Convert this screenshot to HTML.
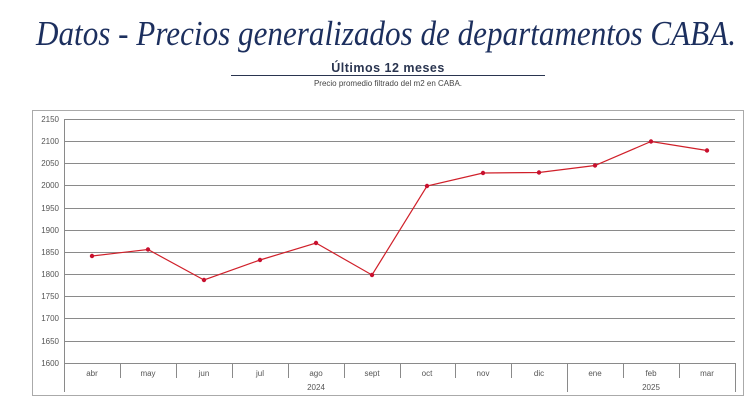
<!DOCTYPE html>
<html><head><meta charset="utf-8"><style>
html,body{margin:0;padding:0;background:#fff;width:750px;height:403px;overflow:hidden}
</style></head><body>
<svg width="750" height="403" xmlns="http://www.w3.org/2000/svg" font-family="Liberation Sans, sans-serif">
<rect width="750" height="403" fill="#fff"/>
<text x="386" y="45" text-anchor="middle" font-family="Liberation Serif, serif" font-style="italic" font-size="35" fill="#1c2f5e" textLength="700" lengthAdjust="spacingAndGlyphs">Datos - Precios generalizados de departamentos CABA.</text>
<text x="388" y="72" text-anchor="middle" font-size="12.5" font-weight="bold" fill="#2a3550" letter-spacing="0.5">Últimos 12 meses</text>
<line x1="231" y1="75.5" x2="545" y2="75.5" stroke="#2a3550" stroke-width="1"/>
<text x="388" y="86" text-anchor="middle" font-size="8" fill="#444">Precio promedio filtrado del m2 en CABA.</text>
<rect x="32.5" y="110.5" width="711" height="285" fill="none" stroke="#aaa" stroke-width="1"/>
<g stroke="#8a8a8a" stroke-width="1">
<line x1="64" y1="119.5" x2="735" y2="119.5"/><line x1="64" y1="141.5" x2="735" y2="141.5"/>
<line x1="64" y1="163.5" x2="735" y2="163.5"/><line x1="64" y1="185.5" x2="735" y2="185.5"/>
<line x1="64" y1="208.5" x2="735" y2="208.5"/><line x1="64" y1="230.5" x2="735" y2="230.5"/>
<line x1="64" y1="252.5" x2="735" y2="252.5"/><line x1="64" y1="274.5" x2="735" y2="274.5"/>
<line x1="64" y1="296.5" x2="735" y2="296.5"/><line x1="64" y1="318.5" x2="735" y2="318.5"/>
<line x1="64" y1="341.5" x2="735" y2="341.5"/><line x1="64" y1="363.5" x2="735" y2="363.5"/>
<line x1="64.5" y1="119" x2="64.5" y2="392"/>
<line x1="120.5" y1="363" x2="120.5" y2="378"/><line x1="176.5" y1="363" x2="176.5" y2="378"/>
<line x1="232.5" y1="363" x2="232.5" y2="378"/><line x1="288.5" y1="363" x2="288.5" y2="378"/>
<line x1="344.5" y1="363" x2="344.5" y2="378"/><line x1="400.5" y1="363" x2="400.5" y2="378"/>
<line x1="455.5" y1="363" x2="455.5" y2="378"/><line x1="511.5" y1="363" x2="511.5" y2="378"/>
<line x1="567.5" y1="363" x2="567.5" y2="392"/><line x1="623.5" y1="363" x2="623.5" y2="378"/>
<line x1="679.5" y1="363" x2="679.5" y2="378"/><line x1="735.5" y1="363" x2="735.5" y2="392"/>
</g>
<g font-size="8" fill="#555" text-anchor="end">
<text x="59" y="122">2150</text><text x="59" y="144">2100</text><text x="59" y="166">2050</text>
<text x="59" y="188">2000</text><text x="59" y="211">1950</text><text x="59" y="233">1900</text>
<text x="59" y="255">1850</text><text x="59" y="277">1800</text><text x="59" y="299">1750</text>
<text x="59" y="321">1700</text><text x="59" y="344">1650</text><text x="59" y="366">1600</text>
</g>
<g font-size="8" fill="#555" text-anchor="middle">
<text x="92" y="376">abr</text><text x="148" y="376">may</text><text x="204" y="376">jun</text>
<text x="260" y="376">jul</text><text x="316" y="376">ago</text><text x="372" y="376">sept</text>
<text x="427" y="376">oct</text><text x="483" y="376">nov</text><text x="539" y="376">dic</text>
<text x="595" y="376">ene</text><text x="651" y="376">feb</text><text x="707" y="376">mar</text>
<text x="316" y="390">2024</text><text x="651" y="390">2025</text>
</g>
<polyline fill="none" stroke="#d0202a" stroke-width="1.2" points="92,256 148,249.5 204,280 260,260 316,243 372,275 427,186 483,173 539,172.5 595,165.5 651,141.5 707,150.5"/>
<g fill="#c8102e">
<circle cx="92" cy="256" r="2.2"/><circle cx="148" cy="249.5" r="2.2"/><circle cx="204" cy="280" r="2.2"/>
<circle cx="260" cy="260" r="2.2"/><circle cx="316" cy="243" r="2.2"/><circle cx="372" cy="275" r="2.2"/>
<circle cx="427" cy="186" r="2.2"/><circle cx="483" cy="173" r="2.2"/><circle cx="539" cy="172.5" r="2.2"/>
<circle cx="595" cy="165.5" r="2.2"/><circle cx="651" cy="141.5" r="2.2"/><circle cx="707" cy="150.5" r="2.2"/>
</g>
</svg>
</body></html>
